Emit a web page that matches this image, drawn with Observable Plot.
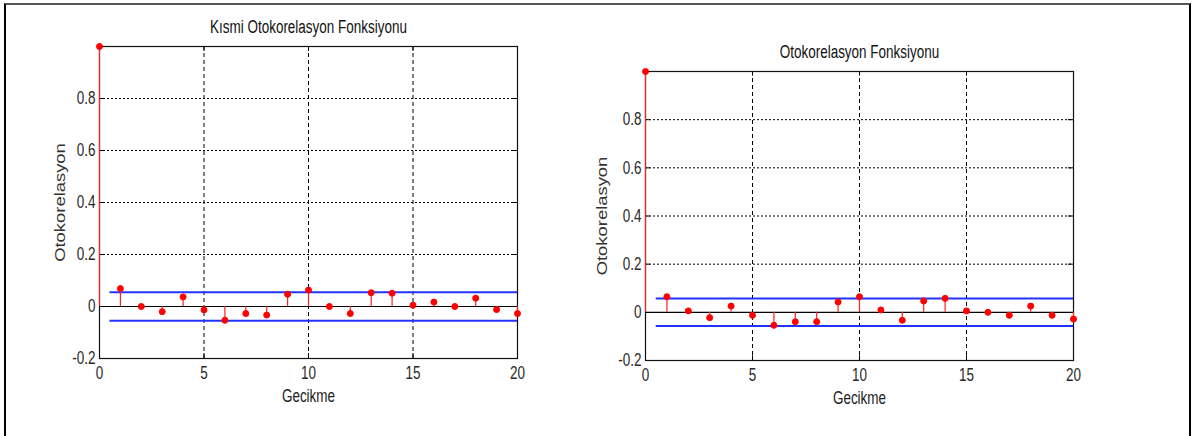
<!DOCTYPE html>
<html>
<head>
<meta charset="utf-8">
<script src="https://cdn.jsdelivr.net/npm/d3@7"></script>
<script src="https://cdn.jsdelivr.net/npm/@observablehq/plot@0.6"></script>
<style>
  html, body { margin: 0; padding: 0; background: #fff; }
  body { width: 1192px; height: 436px; position: relative; overflow: hidden; }
  #frame { position: absolute; left: 4px; top: 3px; width: 1187px; height: 520px; box-sizing: border-box;
           border-left: 2px solid #000; border-top: 2px solid #555; border-right: 2px solid #000; }
  .panel { position: absolute; top: 0; }
</style>
</head>
<body>
<div id="frame"></div>
<div id="left" class="panel" style="left:0px"></div>
<div id="right" class="panel" style="left:590px"></div>
<script>
// ---- data ----
const lags = [0, 1, 2, 3, 4, 5, 6, 7, 8, 9, 10, 11, 12, 13, 14, 15, 16, 17, 18, 19, 20];
const pacfValues = [1.0, 0.069, 0.0, -0.02, 0.037, -0.013, -0.053, -0.027, -0.033, 0.047, 0.063,
                    0.0, -0.027, 0.053, 0.051, 0.005, 0.017, 0.0, 0.032, -0.012, -0.027];
const acfValues = [1.0, 0.065, 0.006, -0.022, 0.026, -0.0125, -0.054, -0.039, -0.039, 0.043, 0.065,
                   0.01, -0.033, 0.047, 0.058, 0.006, 0.0, -0.0125, 0.026, -0.0125, -0.028];
const pacfBound = 0.055;
const acfBound = 0.057;
const bandStart = 0.5;
const xTicks = [0, 5, 10, 15, 20];
const yTicks = [-0.2, 0, 0.2, 0.4, 0.6, 0.8];
const xGrid = [5, 10, 15];
const yGrid = [0.2, 0.4, 0.6, 0.8];
const xDomain = [0, 20];
const yDomain = [-0.2, 1];
const titles = ["Kısmi Otokorelasyon Fonksiyonu", "Otokorelasyon Fonksiyonu"];
const xLabel = "Gecikme";
const yLabel = "Otokorelasyon";

const font = "'Liberation Sans', Arial, Helvetica, sans-serif";
const stretch = 1.3;

// stretch every text about its own centre (the original glyphs look vertically elongated)
function stretchTexts(svg) {
  svg.querySelectorAll("text").forEach(el => {
    const b = el.getBBox();
    const cx = b.x + b.width / 2, cy = b.y + b.height / 2;
    const rotated = el.closest(".ylab") !== null;
    const s = rotated ? "scale(1.27,1)" : `scale(1,${stretch})`;
    const existing = el.getAttribute("transform") || "";
    el.setAttribute("transform", `${existing} translate(${cx},${cy}) ${s} translate(${-cx},${-cy})`);
  });
}

function panel(values, bound, title, m) {
  const data = lags.map((l, i) => ({lag: l, v: values[i]}));
  const tickLenY = (yDomain[1] - yDomain[0]) * 0.016;
  const tickLenX = (xDomain[1] - xDomain[0]) * 0.012;
  return Plot.plot({
    width: m.width, height: m.height,
    marginLeft: m.left, marginRight: m.right, marginTop: m.top, marginBottom: m.bottom,
    style: {fontFamily: font, fontSize: "13.5px", color: "#2a2a2a", background: "transparent", overflow: "visible"},
    x: {domain: xDomain, ticks: xTicks, tickSize: 0, tickPadding: 10, label: null, tickFormat: d => String(d)},
    y: {domain: yDomain, ticks: yTicks, tickSize: 0, tickPadding: 4, label: null,
        tickFormat: d => (Math.abs(d) < 1e-9 ? "0" : String(d))},
    marks: [
      Plot.ruleY(yGrid, {stroke: "#000", strokeWidth: 1, strokeDasharray: "2,2"}),
      Plot.ruleX(xGrid, {stroke: "#000", strokeWidth: 1, strokeDasharray: "4,3"}),
      // inward tick marks
      Plot.ruleX(xGrid, {y1: yDomain[0], y2: yDomain[0] + tickLenY, stroke: "#000"}),
      Plot.ruleX(xGrid, {y1: yDomain[1], y2: yDomain[1] - tickLenY, stroke: "#000"}),
      Plot.ruleY(yGrid, {x1: xDomain[0], x2: xDomain[0] + tickLenX, stroke: "#000"}),
      Plot.ruleY(yGrid, {x1: xDomain[1], x2: xDomain[1] - tickLenX, stroke: "#000"}),
      Plot.frame({stroke: "#111", strokeWidth: 1.2}),
      Plot.ruleY([0], {stroke: "#000", strokeWidth: 1.2}),
      Plot.ruleY([bound, -bound], {x1: bandStart, x2: xDomain[1], stroke: "#2233ff", strokeWidth: 2}),
      Plot.ruleX(data, {x: "lag", y1: 0, y2: "v", stroke: "#ff2020", strokeWidth: 1.2}),
      Plot.dot(data, {x: "lag", y: "v", fill: "#ff0000", stroke: "#ff0000", strokeWidth: 1, r: 3}),
      Plot.text([title], {frameAnchor: "top", lineAnchor: "middle", dy: -19, fontSize: 13.5, fill: "#111"}),
      Plot.text([xLabel], {frameAnchor: "bottom", lineAnchor: "middle", dy: 38, fontSize: 13.5, fill: "#222"}),
      Plot.text([yLabel], {frameAnchor: "left", textAnchor: "middle", lineAnchor: "middle", dx: -m.ylabOff,
                           rotate: -90, fontSize: 14.5, fill: "#333", className: "ylab"})
    ]
  });
}

const leftSvg = panel(pacfValues, pacfBound, titles[0], {width: 560, height: 420, left: 99, right: 43, top: 46, bottom: 62, ylabOff: 39});
document.getElementById("left").appendChild(leftSvg);
stretchTexts(leftSvg);
const rightSvg = panel(acfValues, acfBound, titles[1], {width: 560, height: 420, left: 55, right: 77, top: 71, bottom: 60, ylabOff: 43});
document.getElementById("right").appendChild(rightSvg);
stretchTexts(rightSvg);
</script>
</body>
</html>
